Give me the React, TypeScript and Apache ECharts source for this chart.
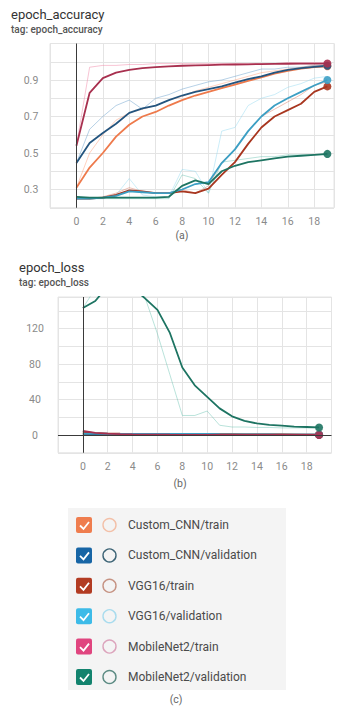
import React, { useEffect, useRef } from 'react';
import * as echarts from 'echarts';

// ---------- data ----------
const epochs = [0, 1, 2, 3, 4, 5, 6, 7, 8, 9, 10, 11, 12, 13, 14, 15, 16, 17, 18, 19];
const seriesNames = [
  'Custom_CNN/train',
  'Custom_CNN/validation',
  'VGG16/train',
  'VGG16/validation',
  'MobileNet2/train',
  'MobileNet2/validation',
];

// accuracy – smoothed
const accCnnTrain = [0.31, 0.42, 0.5, 0.59, 0.655, 0.7, 0.725, 0.76, 0.79, 0.815, 0.835, 0.855, 0.875, 0.895, 0.915, 0.935, 0.95, 0.962, 0.97, 0.975];
const accCnnVal = [0.445, 0.555, 0.61, 0.66, 0.72, 0.745, 0.76, 0.79, 0.815, 0.835, 0.85, 0.865, 0.885, 0.905, 0.92, 0.94, 0.955, 0.965, 0.972, 0.978];
const accVggTrain = [0.25, 0.25, 0.255, 0.27, 0.295, 0.29, 0.28, 0.28, 0.29, 0.28, 0.305, 0.38, 0.45, 0.55, 0.64, 0.7, 0.735, 0.77, 0.835, 0.865];
const accVggVal = [0.25, 0.25, 0.255, 0.265, 0.29, 0.285, 0.28, 0.28, 0.3, 0.33, 0.34, 0.445, 0.52, 0.62, 0.7, 0.76, 0.8, 0.835, 0.87, 0.9];
const accMobTrain = [0.54, 0.83, 0.91, 0.94, 0.955, 0.965, 0.97, 0.975, 0.978, 0.98, 0.982, 0.984, 0.985, 0.986, 0.987, 0.988, 0.989, 0.99, 0.99, 0.99];
const accMobVal = [0.26, 0.255, 0.255, 0.255, 0.255, 0.255, 0.255, 0.26, 0.32, 0.35, 0.33, 0.4, 0.43, 0.45, 0.46, 0.47, 0.48, 0.485, 0.49, 0.495];

// accuracy – raw (faint)
const accCnnTrainRaw = [0.31, 0.5, 0.6, 0.68, 0.72, 0.74, 0.76, 0.79, 0.81, 0.84, 0.86, 0.88, 0.9, 0.92, 0.94, 0.95, 0.96, 0.97, 0.98, 0.98];
const accCnnValRaw = [0.445, 0.63, 0.7, 0.76, 0.79, 0.74, 0.8, 0.82, 0.85, 0.87, 0.89, 0.9, 0.92, 0.94, 0.96, 0.96, 0.97, 0.97, 0.98, 0.98];
const accVggTrainRaw = [0.25, 0.25, 0.26, 0.28, 0.31, 0.29, 0.28, 0.28, 0.3, 0.28, 0.32, 0.45, 0.52, 0.62, 0.7, 0.74, 0.78, 0.82, 0.87, 0.89];
const accVggValRaw = [0.25, 0.25, 0.25, 0.27, 0.36, 0.27, 0.26, 0.26, 0.41, 0.4, 0.28, 0.62, 0.64, 0.76, 0.8, 0.82, 0.86, 0.88, 0.91, 0.92];
const accMobTrainRaw = [0.54, 0.97, 0.98, 0.98, 0.985, 0.985, 0.99, 0.99, 0.99, 0.99, 0.99, 0.99, 0.99, 0.99, 0.99, 0.99, 0.995, 0.995, 0.995, 0.995];
const accMobValRaw = [0.26, 0.25, 0.25, 0.25, 0.25, 0.25, 0.25, 0.25, 0.38, 0.36, 0.28, 0.45, 0.46, 0.47, 0.48, 0.48, 0.49, 0.49, 0.49, 0.49];

// loss – smoothed
const lossCnnTrain = [1.4, 1.2, 1.0, 0.9, 0.8, 0.7, 0.65, 0.6, 0.55, 0.5, 0.45, 0.4, 0.38, 0.35, 0.32, 0.3, 0.28, 0.26, 0.25, 0.24];
const lossCnnVal = [1.2, 1.0, 0.9, 0.8, 0.75, 0.7, 0.65, 0.6, 0.55, 0.5, 0.48, 0.45, 0.42, 0.4, 0.38, 0.36, 0.35, 0.34, 0.33, 0.32];
const lossVggTrain = [3.5, 2.2, 1.6, 1.4, 1.35, 1.3, 1.3, 1.28, 1.25, 1.2, 1.1, 1.0, 0.9, 0.8, 0.7, 0.6, 0.55, 0.5, 0.45, 0.4];
const lossVggVal = [1.6, 1.45, 1.4, 1.38, 1.37, 1.36, 1.36, 1.35, 1.3, 1.2, 1.1, 0.9, 0.8, 0.7, 0.6, 0.55, 0.5, 0.45, 0.42, 0.4];
const lossMobTrain = [4.5, 2.4, 1.5, 1.0, 0.7, 0.5, 0.4, 0.3, 0.25, 0.2, 0.18, 0.15, 0.13, 0.12, 0.1, 0.09, 0.08, 0.07, 0.06, 0.05];
const lossMobVal = [143, 151, 168, 175, 166, 154, 141, 115, 76, 56, 43, 30, 21, 16, 13, 11.5, 10.5, 9.5, 9, 8.5];

// loss – raw (faint)
const lossMobValRaw = [143, 165, 185, 190, 175, 155, 114, 68, 22, 22, 27, 11, 9, 9, 8.5, 8.5, 8, 8, 8, 8];
const lossMobTrainRaw = [4.5, 1.2, 0.8, 0.5, 0.4, 0.3, 0.25, 0.2, 0.15, 0.12, 0.1, 0.1, 0.08, 0.08, 0.07, 0.06, 0.06, 0.05, 0.05, 0.05];

const accTickLabels = ['0.3', '0.5', '0.7', '0.9'];
const lossTickLabels = ['0', '40', '80', '120'];
const xTickLabels = ['0', '2', '4', '6', '8', '10', '12', '14', '16', '18'];

// ---------- styles ----------
const lineColors = ['#ee7a4c', '#24557f', '#a8361f', '#3c9fc4', '#a8304f', '#1d7462'];
const rawColors = ['#ff9a70', '#5f98c8', '#d9755e', '#8fd6f0', '#f07ca0', '#67c0b0'];
const boxColors = ['#ef7d4e', '#1765a5', '#b23b22', '#3dbbe8', '#e0457f', '#13836e'];
const ringColors = ['#f3c0a8', '#3d6476', '#c69383', '#a9dcee', '#dca4bc', '#5d8c84'];

const accSmoothed = [accCnnTrain, accCnnVal, accVggTrain, accVggVal, accMobTrain, accMobVal];
const accRaw = [accCnnTrainRaw, accCnnValRaw, accVggTrainRaw, accVggValRaw, accMobTrainRaw, accMobValRaw];
const lossSmoothed = [lossCnnTrain, lossCnnVal, lossVggTrain, lossVggVal, lossMobTrain, lossMobVal];
const lossRaw: (number[] | null)[] = [null, null, null, null, lossMobTrainRaw, lossMobValRaw];

const FONT = 'Roboto, "Noto Sans", sans-serif';

function pairs(vals: number[]) {
  return epochs.map((e, i) => [e, vals[i]]);
}

export default function App() {
  const ref = useRef<HTMLDivElement>(null);

  useEffect(() => {
    if (!ref.current) return;
    const chart = echarts.init(ref.current, undefined, { renderer: 'svg' });

    const series: any[] = [];
    const addChart = (smoothed: number[][], raw: (number[] | null)[], idx: number, withZeroH: boolean) => {
      raw.forEach((r, i) => {
        if (!r) return;
        series.push({
          type: 'line',
          xAxisIndex: idx,
          yAxisIndex: idx,
          data: pairs(r),
          symbol: 'none',
          silent: true,
          z: 2,
          lineStyle: { color: rawColors[i], width: 1, opacity: 0.45 },
        });
      });
      smoothed.forEach((s, i) => {
        series.push({
          type: 'line',
          xAxisIndex: idx,
          yAxisIndex: idx,
          data: pairs(s),
          symbol: 'none',
          silent: true,
          z: 3,
          lineStyle: { color: lineColors[i], width: 1.8 },
          markLine:
            i === 0
              ? {
                  silent: true,
                  symbol: 'none',
                  label: { show: false },
                  lineStyle: { color: '#3a3a3a', width: 1, type: 'solid' },
                  data: withZeroH ? [{ xAxis: 0 }, { yAxis: 0 }] : [{ xAxis: 0 }],
                }
              : undefined,
        });
      });
      smoothed.forEach((s, i) => {
        series.push({
          type: 'scatter',
          xAxisIndex: idx,
          yAxisIndex: idx,
          data: [[epochs[epochs.length - 1], s[s.length - 1]]],
          symbol: 'circle',
          symbolSize: 8,
          silent: true,
          z: 4,
          itemStyle: { color: lineColors[i], opacity: 0.9 },
        });
      });
    };
    addChart(accSmoothed, accRaw, 0, false);
    addChart(lossSmoothed, lossRaw, 1, true);

    const xAxisCommon = {
      type: 'value',
      min: -2,
      interval: 2,
      axisLine: { show: false },
      axisTick: { show: false },
      splitLine: { show: true, lineStyle: { color: '#e4e4e4', width: 1 } },
      axisLabel: {
        color: '#8a8a8a',
        fontSize: 10.5,
        fontFamily: FONT,
        margin: 8,
        formatter: (v: number) => (xTickLabels.includes(String(v)) ? String(v) : ''),
      },
    };

    const legendChildren: any[] = [];
    seriesNames.forEach((name, i) => {
      const cy = 525 + i * 30.4;
      legendChildren.push(
        { type: 'rect', shape: { x: 76, y: cy - 8, width: 16, height: 16, r: 2 }, style: { fill: boxColors[i] } },
        {
          type: 'polyline',
          shape: { points: [[80, cy + 0.5], [83.5, cy + 4], [89, cy - 3]] },
          style: { stroke: '#ffffff', lineWidth: 1.8, fill: 'none' },
        },
        { type: 'circle', shape: { cx: 109.5, cy, r: 6.5 }, style: { stroke: ringColors[i], lineWidth: 1.4, fill: 'none' } },
        {
          type: 'text',
          x: 128,
          y: cy,
          style: { text: name, font: `12px ${FONT}`, fill: '#4a4a4a', verticalAlign: 'middle', align: 'left' },
        }
      );
    });

    const text = (t: string, x: number, y: number, size: number, color: string, align = 'left', weight = 'normal') => ({
      type: 'text',
      x,
      y,
      style: { text: t, font: `${weight} ${size}px ${FONT}`, fill: color, align, verticalAlign: 'top' },
    });

    chart.setOption({
      animation: false,
      backgroundColor: '#ffffff',
      grid: [
        { left: 50, top: 43.5, width: 287, height: 164.25, show: true, borderColor: '#e4e4e4', borderWidth: 1 },
        { left: 58, top: 297, width: 273.5, height: 155.75, show: true, borderColor: '#e4e4e4', borderWidth: 1 },
      ],
      xAxis: [
        { ...xAxisCommon, gridIndex: 0, max: 19.5 },
        { ...xAxisCommon, gridIndex: 1, max: 20 },
      ],
      yAxis: [
        {
          type: 'value',
          gridIndex: 0,
          min: 0.2,
          max: 1.1,
          interval: 0.1,
          axisLine: { show: false },
          axisTick: { show: false },
          splitLine: { show: true, lineStyle: { color: '#e4e4e4', width: 1 } },
          axisLabel: {
            color: '#8a8a8a',
            fontSize: 10.5,
            fontFamily: FONT,
            margin: 19,
            align: 'center',
            formatter: (v: number) => {
              const s = (Math.round(v * 10) / 10).toFixed(1);
              return accTickLabels.includes(s) ? s : '';
            },
          },
        },
        {
          type: 'value',
          gridIndex: 1,
          min: -20,
          max: 155.5,
          interval: 20,
          axisLine: { show: false },
          axisTick: { show: false },
          splitLine: { show: true, lineStyle: { color: '#e4e4e4', width: 1 } },
          axisLabel: {
            color: '#8a8a8a',
            fontSize: 10.5,
            fontFamily: FONT,
            margin: 23,
            align: 'center',
            formatter: (v: number) => (lossTickLabels.includes(String(v)) ? String(v) : ''),
          },
        },
      ],
      series,
      graphic: [
        text('epoch_accuracy', 11, 8, 13, '#333333'),
        text('tag: epoch_accuracy', 11, 24, 10, '#555555', 'left', '500'),
        text('(a)', 182, 230, 10.5, '#666666', 'center'),
        text('epoch_loss', 19, 261, 13, '#333333'),
        text('tag: epoch_loss', 19, 277, 10, '#555555', 'left', '500'),
        text('(b)', 180, 478, 10.5, '#666666', 'center'),
        { type: 'rect', shape: { x: 68, y: 508, width: 218, height: 182 }, style: { fill: '#f4f4f4' }, z: -1 },
        { type: 'group', children: legendChildren },
        text('(c)', 176, 694, 10.5, '#666666', 'center'),
      ],
    });

    return () => chart.dispose();
  }, []);

  return <div ref={ref} style={{ position: 'absolute', left: 0, top: 0, width: 337, height: 711 }} />;
}
